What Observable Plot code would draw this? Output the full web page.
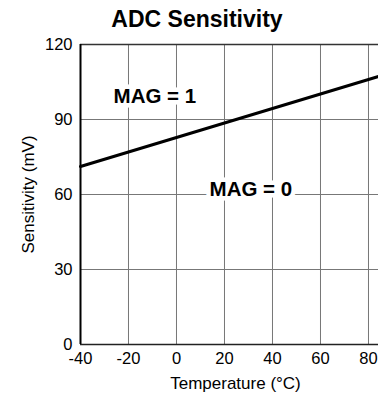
<!DOCTYPE html>
<html>
<head>
<meta charset="utf-8">
<script src="https://cdn.jsdelivr.net/npm/d3@7"></script>
<script src="https://cdn.jsdelivr.net/npm/@observablehq/plot@0.6"></script>
<style>
  html, body { margin: 0; padding: 0; background: #fff; }
  body { width: 378px; height: 399px; overflow: hidden; font-family: "Liberation Sans", Arial, sans-serif; }
  #title { height: 35px; box-sizing: border-box; padding: 3px 0 0 16px; line-height: 32px; font-size: 23px; font-weight: bold; text-align: center; color: #000; }
  svg { display: block; }
</style>
</head>
<body>
<div id="title">ADC Sensitivity</div>
<div id="chart"></div>
<script>
const temperature = [-40, 84.2];
const sensitivity = [71.2, 107.2];
const xTicks = [-40, -20, 0, 20, 40, 60, 80];
const yTicks = [0, 30, 60, 90, 120];
const xLabel = ["Temperature (°C)"];
const yLabel = ["Sensitivity (mV)"];
const labelText = ["MAG = 1", "MAG = 0"];
const labelX = [-9, 31];
const labelY = [99.4, 62];

const lineData = temperature.map((t, i) => ({t, s: sensitivity[i]}));
const labels = labelText.map((text, i) => ({text, x: labelX[i], y: labelY[i]}));

const chart = Plot.plot({
  width: 378,
  height: 364,
  marginTop: 9,
  marginBottom: 55,
  marginLeft: 80,
  marginRight: 0,
  style: {fontFamily: '"Liberation Sans", Arial, sans-serif', background: "#fff", color: "#000"},
  x: {domain: [-40, 84.17]},
  y: {domain: [0, 120]},
  marks: [
    Plot.gridX(xTicks, {stroke: "#777", strokeOpacity: 1, strokeWidth: 1}),
    Plot.gridY(yTicks, {stroke: "#777", strokeOpacity: 1, strokeWidth: 1}),
    Plot.ruleY([120], {stroke: "#333", strokeWidth: 1.5}),
    Plot.ruleY([0], {stroke: "#222", strokeWidth: 1.5}),
    Plot.ruleX([-40], {stroke: "#000", strokeWidth: 2}),
    Plot.axisX({ticks: xTicks, tickSize: 0, tickPadding: 8, fontSize: 16.5, label: null, tickFormat: d => String(d)}),
    Plot.axisY({ticks: yTicks, tickSize: 0, tickPadding: 8, fontSize: 16.5, label: null}),
    Plot.text(xLabel, {frameAnchor: "bottom", text: d => d, dx: 6, dy: 44, lineAnchor: "bottom", fontSize: 17, fill: "#000"}),
    Plot.text(yLabel, {frameAnchor: "left", text: d => d, dx: -52, rotate: -90, lineAnchor: "middle", textAnchor: "middle", fontSize: 17, fill: "#000"}),
    Plot.line(lineData, {x: "t", y: "s", stroke: "#000", strokeWidth: 3}),
    Plot.text(labels, {x: "x", y: "y", text: "text", fontSize: 20.5, fontWeight: "bold", fill: "#000", stroke: "#fff", strokeWidth: 9, strokeLinejoin: "round", textAnchor: "middle", lineAnchor: "middle"})
  ]
});
document.getElementById("chart").appendChild(chart);
</script>
</body>
</html>
